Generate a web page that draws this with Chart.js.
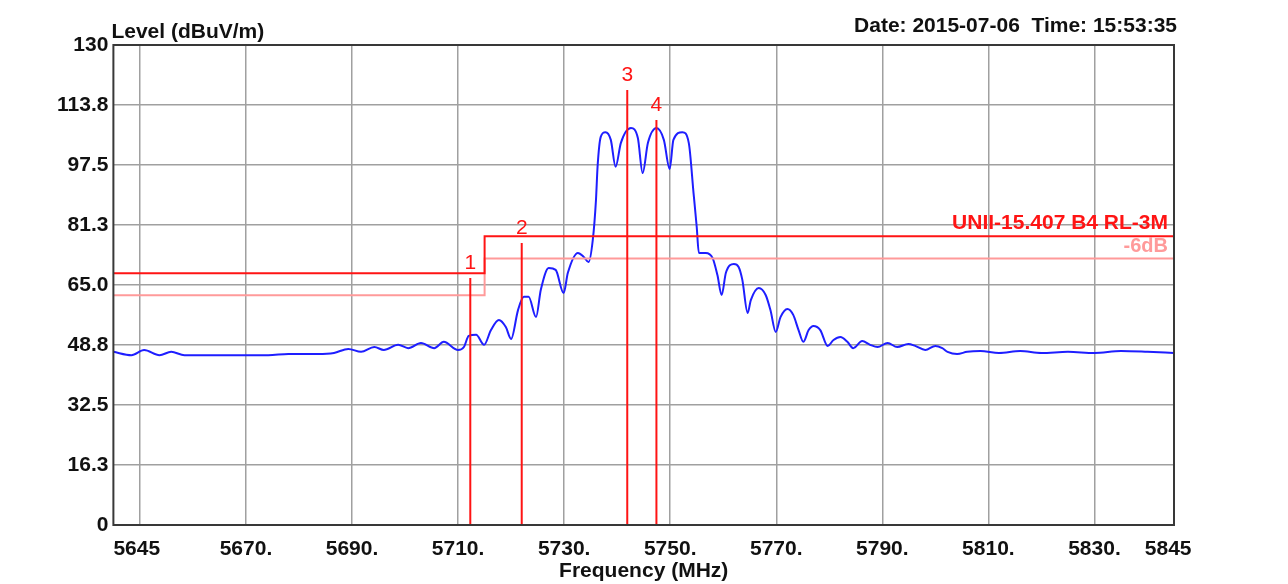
<!DOCTYPE html>
<html><head><meta charset="utf-8">
<script src="https://cdn.jsdelivr.net/npm/chart.js@4.4.1/dist/chart.umd.min.js"></script>
<style>html,body{margin:0;padding:0;background:#fff;}#wrap{width:1288px;height:584px;}</style>
</head><body><div id="wrap"><canvas id="c" width="1288" height="584"></canvas></div>
<script>
// ---- data ----
const freqMHz = [5645.0,5648.4,5650.8,5653.7,5655.9,5658.4,5662.9,5667.8,5671.0,5674.2,5678.0,5683.6,5686.6,5689.3,5691.7,5694.2,5696.0,5698.7,5700.6,5703.0,5705.5,5707.3,5710.0,5711.1,5712.0,5713.4,5714.9,5716.2,5717.7,5719.0,5720.0,5721.3,5722.4,5723.3,5724.7,5725.6,5727.1,5728.4,5729.9,5730.7,5732.6,5733.7,5734.6,5735.4,5736.0,5736.3,5736.9,5737.8,5738.8,5739.7,5740.7,5742.6,5743.9,5744.8,5745.8,5747.4,5748.8,5749.9,5750.6,5752.3,5753.5,5754.4,5755.0,5755.4,5756.7,5758.0,5758.9,5759.7,5760.5,5762.0,5762.9,5763.6,5764.6,5765.2,5766.7,5768.0,5768.9,5769.9,5770.8,5772.1,5773.2,5774.2,5775.1,5776.1,5777.0,5778.3,5779.7,5780.8,5782.1,5783.4,5784.5,5786.2,5787.7,5789.1,5791.0,5792.8,5794.9,5796.2,5798.1,5800.0,5801.3,5802.3,5804.1,5806.0,5808.5,5812.0,5816.0,5820.0,5825.0,5830.0,5835.0,5840.0,5845.0];
const levelDb = [46.9,46.0,47.4,46.0,46.9,46.0,46.0,46.0,46.0,46.0,46.3,46.3,46.6,47.7,46.9,48.2,47.4,48.8,47.9,49.3,47.9,49.6,47.4,48.2,51.2,51.5,48.8,52.8,55.5,53.6,50.4,58.2,61.8,61.8,56.3,63.7,69.6,69.1,62.8,68.3,73.7,72.6,71.2,77.2,88.0,97.0,105.1,106.4,104.3,97.0,103.5,107.5,104.8,95.3,103.5,107.5,104.3,96.4,104.3,106.4,103.5,89.9,80.7,73.7,73.7,72.3,67.7,62.3,68.3,70.7,69.9,66.4,57.4,60.9,64.2,62.3,58.2,52.3,56.3,58.5,56.9,52.8,49.6,52.8,53.9,52.8,48.5,50.1,50.9,49.6,47.9,49.8,48.8,48.2,49.3,48.2,49.0,48.5,47.4,48.5,47.9,46.9,46.3,46.9,47.1,46.6,47.1,46.6,46.9,46.6,47.1,46.9,46.6];

const limitFreq = [5645, 5715, 5845];
const limitLevel = [68.2, 78.2, 78.2];
const marginLevel = [62.2, 72.2, 72.2];
const limitLabel = 'UNII-15.407 B4 RL-3M';
const marginLabel = '-6dB';

const markerNames = ['1', '2', '3', '4'];
const markerFreq = [5712.3, 5722.0, 5741.9, 5747.4];
const markerTop = [66.9, 76.4, 117.8, 109.7];

const xTicks = [5645, 5650, 5670, 5690, 5710, 5730, 5750, 5770, 5790, 5810, 5830, 5845];
const xTickLabels = ['\u2007\u2007\u2007\u20075645', '', '5670.', '5690.', '5710.', '5730.', '5750.', '5770.', '5790.', '5810.', '5830.', '5845\u2007'];
const yTicks = [0, 16.25, 32.5, 48.75, 65, 81.25, 97.5, 113.75, 130];
const yTickLabels = ['0', '16.3', '32.5', '48.8', '65.0', '81.3', '97.5', '113.8', '130'];

const yTitle = 'Level (dBuV/m)';
const xTitle = 'Frequency (MHz)';
const stamp = 'Date: 2015-07-06  Time: 15:53:35';

// ---- styles ----
const FONT = "'Liberation Sans', Arial, sans-serif";
const RED = '#ff1414';
const PINK = '#ff9a9a';
const BLUE = '#1e1eff';
const GRID = '#a0a0a0';

const pts = (xs, ys) => xs.map((x, i) => ({ x: x, y: ys[i] }));

const datasets = [];
markerFreq.forEach((f, i) => {
  datasets.push({ label: 'M' + markerNames[i], data: [{ x: f, y: 0 }, { x: f, y: markerTop[i] }],
    borderColor: RED, borderWidth: 2, pointRadius: 0, fill: false });
});
datasets.push({ label: limitLabel, data: pts(limitFreq, limitLevel), stepped: true, borderColor: RED, borderWidth: 2, pointRadius: 0, fill: false });
datasets.push({ label: marginLabel, data: pts(limitFreq, marginLevel), stepped: true, borderColor: PINK, borderWidth: 2, pointRadius: 0, fill: false });
datasets.push({ label: 'Trace', data: pts(freqMHz, levelDb), borderColor: BLUE, borderWidth: 2, pointRadius: 0, fill: false, cubicInterpolationMode: 'monotone' });

const deco = {
  id: 'deco',
  beforeDraw(chart) {
    const c = chart.ctx;
    c.save(); c.fillStyle = '#ffffff'; c.fillRect(0, 0, chart.width, chart.height); c.restore();
  },
  afterDatasetsDraw(chart) {
    const c = chart.ctx, a = chart.chartArea, xs = chart.scales.x, ys = chart.scales.y;
    c.save();
    // frame
    c.strokeStyle = '#383838'; c.lineWidth = 2;
    c.strokeRect(a.left, a.top, a.right - a.left, a.bottom - a.top);
    // marker labels
    c.fillStyle = RED; c.font = '21px ' + FONT; c.textAlign = 'center'; c.textBaseline = 'bottom';
    markerFreq.forEach((f, i) => {
      c.fillText(markerNames[i], xs.getPixelForValue(f), ys.getPixelForValue(markerTop[i]) - 4);
    });
    // limit labels
    c.textAlign = 'right'; c.textBaseline = 'middle';
    c.font = 'bold 21px ' + FONT; c.fillStyle = RED;
    c.fillText(limitLabel, a.right - 6, ys.getPixelForValue(limitLevel[2]) - 13);
    c.font = 'bold 20px ' + FONT; c.fillStyle = PINK;
    c.fillText(marginLabel, a.right - 6, ys.getPixelForValue(marginLevel[2]) - 12);
    // header texts
    c.fillStyle = '#111'; c.font = 'bold 21px ' + FONT; c.textBaseline = 'alphabetic';
    c.textAlign = 'left'; c.fillText(yTitle, a.left - 2, 38);
    c.textAlign = 'right'; c.fillText(stamp, a.right + 3, 32);
    c.restore();
  }
};

new Chart(document.getElementById('c'), {
  type: 'line',
  data: { datasets: datasets },
  options: {
    responsive: false, animation: false,
    layout: { padding: { left: 52, right: 114, top: 45, bottom: 0 } },
    plugins: { legend: { display: false }, tooltip: { enabled: false }, title: { display: false } },
    scales: {
      x: {
        type: 'linear', min: 5645, max: 5845,
        afterBuildTicks: s => { s.ticks = xTicks.map(v => ({ value: v })); },
        afterFit: s => { s.height = 59; },
        ticks: { autoSkip: false, maxRotation: 0, padding: 14, color: '#111',
          font: { family: FONT, size: 21, weight: 'bold', lineHeight: 1.0 },
          callback: (v, i) => xTickLabels[i] },
        grid: { drawTicks: false, lineWidth: 1.5,
          color: ctx => (ctx.index === 0 || ctx.index === xTicks.length - 1) ? 'rgba(0,0,0,0)' : GRID },
        border: { display: false },
        title: { display: true, text: xTitle, color: '#111', padding: { top: 0, bottom: 2 },
          font: { family: FONT, size: 21, weight: 'bold', lineHeight: 1.0 } }
      },
      y: {
        type: 'linear', min: 0, max: 130,
        afterBuildTicks: s => { s.ticks = yTicks.map(v => ({ value: v })); },
        ticks: { autoSkip: false, padding: 5, color: '#111',
          font: { family: FONT, size: 21, weight: 'bold', lineHeight: 1.0 },
          callback: (v, i) => yTickLabels[i] },
        grid: { drawTicks: false, lineWidth: 1.5,
          color: ctx => (ctx.index === 0 || ctx.index === yTicks.length - 1) ? 'rgba(0,0,0,0)' : GRID },
        border: { display: false }
      }
    }
  },
  plugins: [deco]
});
</script></body></html>
